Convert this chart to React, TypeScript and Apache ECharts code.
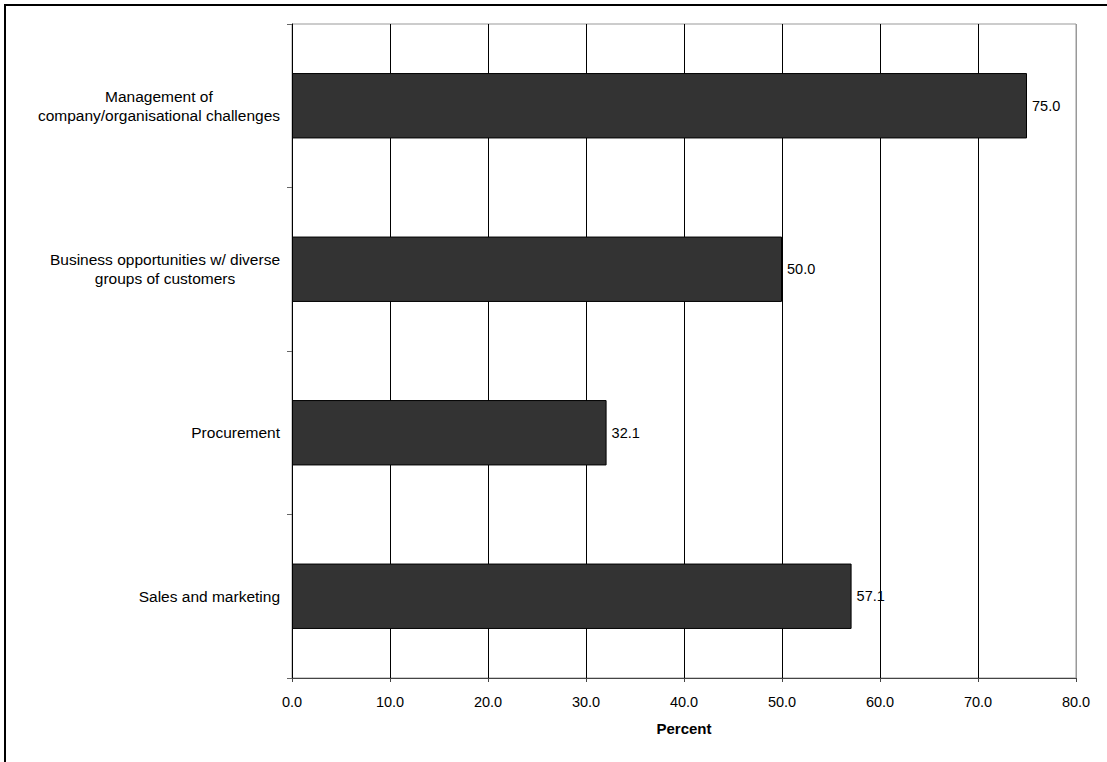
import React, { useEffect, useRef } from "react";
import * as echarts from "echarts";

const categories = [
  "Management of\ncompany/organisational challenges",
  "Business opportunities w/ diverse\ngroups of customers",
  "Procurement",
  "Sales and marketing",
];
const values = [75.0, 50.0, 32.1, 57.1];
const xTicks = { min: 0, max: 80, interval: 10 };
const xAxisName = "Percent";

const FONT = "Arial, 'Liberation Sans', Helvetica, sans-serif";

export default function App() {
  const ref = useRef<HTMLDivElement>(null);
  useEffect(() => {
    document.body.style.margin = "0";
    const chart = echarts.init(ref.current!, undefined, { renderer: "svg" });
    chart.setOption({
      animation: false,
      backgroundColor: "#fff",
      textStyle: { fontFamily: FONT },
      graphic: [
        {
          type: "rect",
          shape: { x: 5, y: 5, width: 1120, height: 780 },
          style: { fill: "none", stroke: "#000", lineWidth: 2 },
          silent: true,
        },
      ],
      grid: { left: 292, right: 31, top: 24, bottom: 84, show: true, borderColor: "#999", borderWidth: 1 },
      xAxis: {
        type: "value",
        min: xTicks.min,
        max: xTicks.max,
        interval: xTicks.interval,
        name: xAxisName,
        nameLocation: "middle",
        nameGap: 43,
        nameTextStyle: { fontWeight: "bold", fontSize: 15, color: "#000", fontFamily: FONT },
        axisLine: { show: true, lineStyle: { color: "#444", width: 1 } },
        axisTick: { show: true, length: 4, lineStyle: { color: "#444" } },
        axisLabel: {
          formatter: (v: number) => v.toFixed(1),
          fontSize: 14.5,
          color: "#000",
          margin: 16,
          fontFamily: FONT,
        },
        splitLine: {
          show: true,
          lineStyle: { color: ["#000", "#000", "#000", "#000", "#000", "#000", "#000", "#000", "#999"], width: 1 },
        },
      },
      yAxis: {
        type: "category",
        inverse: true,
        data: categories,
        axisLine: { show: true, lineStyle: { color: "#000", width: 1 } },
        axisTick: { show: true, length: 5, lineStyle: { color: "#666" } },
        axisLabel: {
          margin: 12,
          align: "right",
          formatter: (v: string) => v.split("\n").map((l) => `{c|${l}}`).join("\n"),
          rich: {
            c: { align: "center", fontSize: 15.5, lineHeight: 19, color: "#000", fontFamily: FONT },
          },
        },
        splitLine: { show: false },
      },
      series: [
        {
          type: "bar",
          data: values,
          barWidth: "40%",
          itemStyle: { color: "#333333", borderColor: "#000", borderWidth: 1 },
          label: {
            show: true,
            position: "right",
            distance: 5,
            formatter: (p: any) => Number(p.value).toFixed(1),
            fontSize: 14.5,
            color: "#000",
            fontFamily: FONT,
          },
        },
      ],
    });
    return () => chart.dispose();
  }, []);
  return <div ref={ref} style={{ position: "absolute", left: 0, top: 0, width: 1107, height: 762 }} />;
}
